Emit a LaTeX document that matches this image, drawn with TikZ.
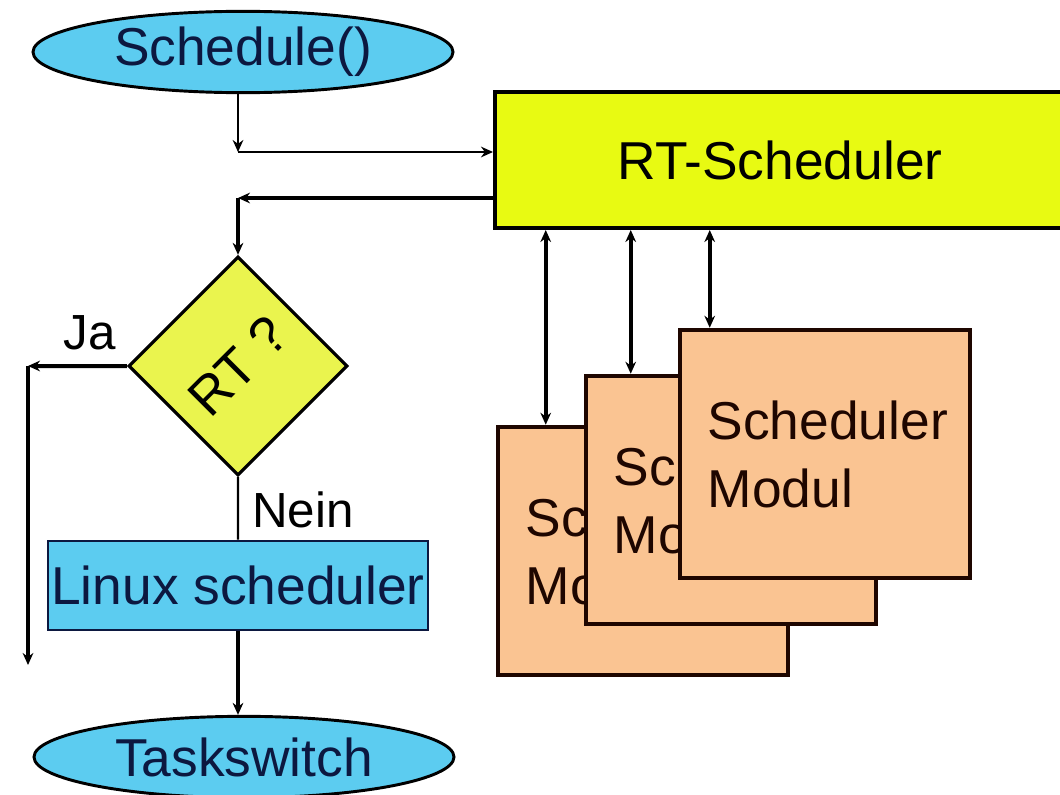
\documentclass[tikz,border=0pt]{standalone}
\usepackage{fontspec}
\setmainfont{Liberation Sans}
\usetikzlibrary{shapes.geometric,arrows.meta,calc}
\definecolor{rtyellow}{RGB}{232,250,18}
\definecolor{diayellow}{RGB}{234,244,78}
\definecolor{skyblue}{RGB}{92,204,240}
\definecolor{modorange}{RGB}{250,196,146}
\definecolor{navy}{RGB}{12,24,64}
\definecolor{modline}{RGB}{30,6,0}
\newcommand{\modtext}{\hspace*{7pt}\mbox{Scheduler}\\\hspace*{7pt}\mbox{Modul}}
\begin{document}
\begin{tikzpicture}[x=0.75pt,y=-0.75pt,
  bigtxt/.style={font=\fontsize{40}{51}\selectfont},
  oval/.style={ellipse, draw=black, line width=2.2pt, fill=skyblue, text=navy,
    minimum width=315pt, minimum height=61pt, inner sep=0pt, bigtxt},
  rtbox/.style={rectangle, draw=black, line width=3pt, fill=rtyellow,
    minimum width=427.5pt, minimum height=102pt, inner sep=0pt, bigtxt},
  decision/.style={rectangle, rotate=45, draw=black, line width=2.4pt, fill=diayellow,
    minimum width=115.5pt, minimum height=115.5pt, inner sep=0pt, bigtxt},
  linuxbox/.style={rectangle, draw=navy, line width=2.2pt, fill=skyblue, text=navy,
    minimum width=285pt, minimum height=66.75pt, inner sep=0pt, bigtxt},
  modbox/.style={rectangle, draw=modline, line width=3.4pt, fill=modorange, text=modline,
    minimum width=217.5pt, minimum height=186pt, inner xsep=0pt, inner ysep=0pt,
    text width=190pt, align=left, bigtxt},
  lbl/.style={font=\fontsize{37}{44}\selectfont, inner sep=0pt},
  thinline/.style={line width=1.7pt, draw=black},
  thickline/.style={line width=3pt, draw=black},
  arr/.style={-{Stealth[length=9pt,width=8pt]}},
  bi/.style={{Stealth[length=9pt,width=8pt]}-{Stealth[length=9pt,width=8pt]}}
]
\useasboundingbox (0,0) rectangle (1060,795);
\fill[white] (0,0) rectangle (1060,795);

% nodes
\node[oval] (sched) at (243,52) {Schedule()};
\node[rtbox] (rt) at (780,160) {RT-Scheduler};
\node[decision] (dia) at (238,366) {RT ?};
\node[linuxbox] (linux) at (238,585.5) {Linux scheduler};
\node[oval] (task) at (244,757) {Taskswitch};

\node[modbox] (m1) at (643,551) {\modtext};
\node[modbox] (m2) at (731,500) {\modtext};
\node[modbox] (m3) at (825,454) {\modtext};

\node[lbl] (ja) at (90,333) {Ja};
\node[lbl] (nein) at (303,510) {Nein};

% connectors
\coordinate (c1) at (238,152);
\draw[thinline,arr] (c1 |- sched.south) -- (c1);
\draw[thinline,arr] (c1) -- (c1 -| rt.west);

\coordinate (c2) at (495,198);
\coordinate (c3) at (238,198);
\draw[thickline,arr] (c2) -- (c3);
\draw[thickline,arr] (c3) -- (dia.north east);

\coordinate (c4) at (28,366);
\coordinate (c5) at (28,665);
\draw[thickline,arr] (dia.north west) -- (c4);
\draw[thickline,arr] (c4) -- (c5);

\draw[thinline] (dia.south west) -- (linux.north);
\draw[thickline,arr] (linux.south) -- (linux.south |- task.north);

\coordinate (m1t) at ([xshift=37.5pt]m1.north west);
\coordinate (m2t) at ([xshift=35.25pt]m2.north west);
\coordinate (m3t) at ([xshift=24pt]m3.north west);
\draw[thickline,bi] (m1t |- rt.south) -- (m1t);
\draw[thickline,bi] (m2t |- rt.south) -- (m2t);
\draw[thickline,bi] (m3t |- rt.south) -- (m3t);
\end{tikzpicture}
\end{document}
